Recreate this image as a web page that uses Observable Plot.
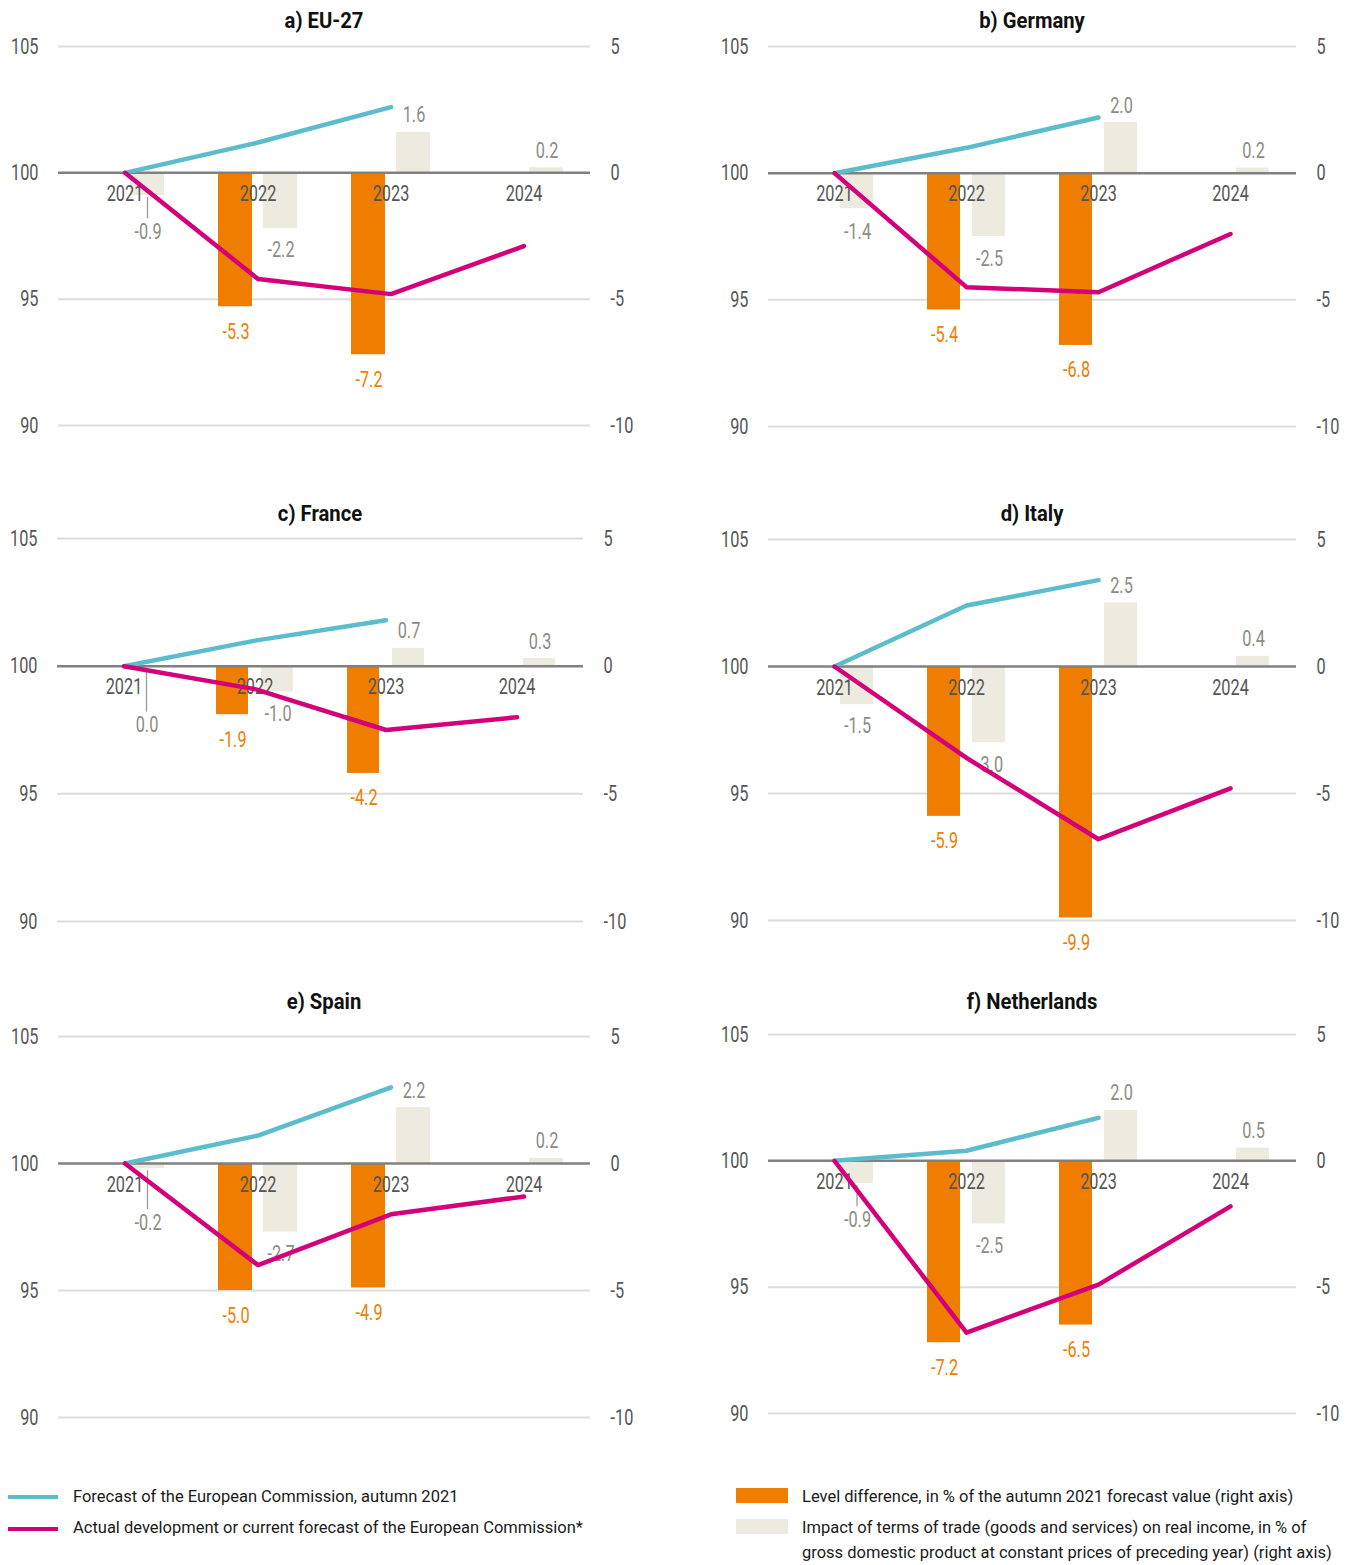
<!DOCTYPE html>
<html><head><meta charset="utf-8">
<script src="https://cdn.jsdelivr.net/npm/d3@7"></script>
<script src="https://cdn.jsdelivr.net/npm/@observablehq/plot@0.6"></script>
<style>
body{margin:0;background:#fff;}
#page{position:relative;width:1351px;height:1565px;overflow:hidden;font-family:Roboto,"Noto Sans",sans-serif;}
.panel{position:absolute;}
.panel svg{overflow:visible;}
.title{position:absolute;font-weight:bold;font-size:22px;color:#111;transform:translate(-50%,-50%) scaleX(0.92);white-space:nowrap;}
.leg{position:absolute;font-size:16.5px;color:#1a1a1a;white-space:nowrap;line-height:25px;}
.sw{position:absolute;}
</style></head>
<body><div id="page"></div>
<script>
// ---------- data ----------
const years = ["2021", "2022", "2023", "2024"];
const titles = ["a) EU-27", "b) Germany", "c) France", "d) Italy", "e) Spain", "f) Netherlands"];
// Forecast of the European Commission, autumn 2021 (index, 2021 = 100)
const forecastIndex = [
  [100, 101.2, 102.6],
  [100, 101.0, 102.2],
  [100, 101.0, 101.8],
  [100, 102.4, 103.4],
  [100, 101.1, 103.0],
  [100, 100.4, 101.7]
];
// Actual development or current forecast (index, 2021 = 100)
const actualIndex = [
  [100, 95.8, 95.2, 97.1],
  [100, 95.5, 95.3, 97.6],
  [100, 99.1, 97.5, 98.0],
  [100, 96.4, 93.2, 95.2],
  [100, 96.0, 98.0, 98.7],
  [100, 93.2, 95.1, 98.2]
];
// Level difference, % of autumn 2021 forecast (right axis)
const levelDiff = [
  [null, -5.3, -7.2, null],
  [null, -5.4, -6.8, null],
  [null, -1.9, -4.2, null],
  [null, -5.9, -9.9, null],
  [null, -5.0, -4.9, null],
  [null, -7.2, -6.5, null]
];
// Impact of terms of trade on real income (right axis)
const termsOfTrade = [
  [-0.9, -2.2, 1.6, 0.2],
  [-1.4, -2.5, 2.0, 0.2],
  [0.0, -1.0, 0.7, 0.3],
  [-1.5, -3.0, 2.5, 0.4],
  [-0.2, -2.7, 2.2, 0.2],
  [-0.9, -2.5, 2.0, 0.5]
];
const indexBase = 100;
const rightTicks = [-10, -5, 0, 5];
const gridTicks = [-10, -5, 5];
const legendLines = ["Forecast of the European Commission, autumn 2021", "Actual development or current forecast of the European Commission*"];
const legendBars = ["Level difference, in % of the autumn 2021 forecast value (right axis)", "Impact of terms of trade (goods and services) on real income, in % of<br>gross domestic product at constant prices of preceding year) (right axis)"];

// ---------- style / layout ----------
const FONT = 'Roboto,"Noto Sans",sans-serif';
const SQUEEZE = 0.74; // horizontal condensing of chart labels
const C = {cyan: "#5bbccc", magenta: "#d4007a", orange: "#ef7d00", beige: "#edeae0", grid: "#dcdcdc", zero: "#808080", tick: "#555", totLabel: "#8c8c84"};
const layout = [
  {left: 0, width: 680, x0: 58, x1: 590, t: 46, b: 425, ty: 20},
  {left: 700, width: 651, x0: 768, x1: 1296, t: 46, b: 426, ty: 20},
  {left: 0, width: 680, x0: 57, x1: 583, t: 538, b: 921, ty: 513},
  {left: 700, width: 651, x0: 768, x1: 1296, t: 539, b: 920, ty: 513},
  {left: 0, width: 680, x0: 58, x1: 590, t: 1036, b: 1417, ty: 1001},
  {left: 700, width: 651, x0: 768, x1: 1296, t: 1034, b: 1413, ty: 1001}
];
const page = document.getElementById("page");

function leader(data) {
  return (index, {x, y}) => {
    const g = d3.create("svg:g");
    for (const d of data) {
      const cx = x(d.year) + x.bandwidth() / 2 + 23;
      const y1 = y(Math.min(d.v, 0)) + 2, y2 = y(0) + 46;
      if (y2 - y1 < 16) continue;
      g.append("line").attr("x1", cx).attr("x2", cx)
        .attr("y1", y1).attr("y2", y2)
        .attr("stroke", "#9a9a9a").attr("stroke-width", 1.3);
    }
    return g.node();
  };
}

function squeeze(svg, k) {
  svg.querySelectorAll("text").forEach(t => {
    const tr = t.getAttribute("transform");
    if (t.hasAttribute("x")) t.setAttribute("x", (+t.getAttribute("x")) / k);
    t.setAttribute("transform", (tr ? tr + " " : "") + `scale(${k},1)`);
  });
}

titles.forEach((title, p) => {
  const L = layout[p];
  const mt = 12, mb = 40;
  const height = mt + (L.b - L.t) + mb;
  const lvl = years.map((year, i) => ({year, v: levelDiff[p][i]})).filter(d => d.v != null);
  const tot = years.map((year, i) => ({year, v: termsOfTrade[p][i], first: i === 0}));
  const fc = forecastIndex[p].map((v, i) => ({year: years[i], v: v - indexBase}));
  const ac = actualIndex[p].map((v, i) => ({year: years[i], v: v - indexBase}));
  const totFirst = tot.filter(d => d.first);
  const totPos = tot.filter(d => !d.first && d.v >= 0);
  const totNeg = tot.filter(d => !d.first && d.v < 0);
  const fmt = d => d.v.toFixed(1);

  const svg = Plot.plot({
    width: L.width, height,
    marginTop: mt, marginBottom: mb,
    marginLeft: L.x0 - L.left, marginRight: L.left + L.width - L.x1,
    x: {type: "band", domain: years, padding: 0, axis: null},
    y: {domain: [-10, 5], axis: null},
    style: {fontFamily: FONT, fontSize: "22px", color: C.tick, background: "transparent", overflow: "visible"},
    marks: [
      Plot.ruleY(gridTicks, {stroke: C.grid, strokeWidth: 2}),
      Plot.axisY({anchor: "left", label: null, ticks: rightTicks, tickSize: 0, tickPadding: 20, tickFormat: d => String(d + indexBase)}),
      Plot.axisY({anchor: "right", label: null, ticks: rightTicks, tickSize: 0, tickPadding: 20, tickFormat: d => String(d)}),
      Plot.barY(lvl, {x: "year", y: "v", fill: C.orange, insetLeft: 27, insetRight: 72}),
      Plot.barY(tot, {x: "year", y: "v", fill: C.beige, insetLeft: 72, insetRight: 27}),
      Plot.ruleY([0], {stroke: C.zero, strokeWidth: 2.5}),
      Plot.text(years, {x: d => d, y: 0, dy: 21, text: d => d, fill: C.tick}),
      leader(totFirst),
      Plot.text(totFirst, {x: "year", y: 0, dx: 23, dy: 59, text: fmt, fill: C.totLabel}),
      Plot.text(totPos, {x: "year", y: "v", dx: 23, dy: -17, text: fmt, fill: C.totLabel}),
      Plot.text(totNeg, {x: "year", y: "v", dx: 23, dy: 22, text: fmt, fill: C.totLabel}),
      Plot.text(lvl, {x: "year", y: "v", dx: -22, dy: 25, text: fmt, fill: C.orange}),
      Plot.line(fc, {x: "year", y: "v", stroke: C.cyan, strokeWidth: 4.5, strokeLinecap: "round", strokeLinejoin: "round"}),
      Plot.line(ac, {x: "year", y: "v", stroke: C.magenta, strokeWidth: 4.5, strokeLinecap: "round", strokeLinejoin: "round"})
    ]
  });
  squeeze(svg, SQUEEZE);
  const div = document.createElement("div");
  div.className = "panel";
  div.style.left = L.left + "px";
  div.style.top = (L.t - mt) + "px";
  div.appendChild(svg);
  page.appendChild(div);

  const t = document.createElement("div");
  t.className = "title";
  t.textContent = title;
  t.style.left = ((L.x0 + L.x1) / 2) + "px";
  t.style.top = L.ty + "px";
  page.appendChild(t);
});

// ---------- legend ----------
function addSwatch(x, y, w, h, color) {
  const s = document.createElement("div");
  s.className = "sw";
  Object.assign(s.style, {left: x + "px", top: y + "px", width: w + "px", height: h + "px", background: color});
  page.appendChild(s);
}
function addText(x, y, html) {
  const t = document.createElement("div");
  t.className = "leg";
  t.style.left = x + "px";
  t.style.top = y + "px";
  t.innerHTML = html;
  page.appendChild(t);
}
addSwatch(8, 1495, 50, 4, C.cyan);
addText(73, 1484, legendLines[0]);
addSwatch(8, 1527, 50, 4, C.magenta);
addText(73, 1515, legendLines[1]);
addSwatch(736, 1488, 52, 15, C.orange);
addText(802, 1484, legendBars[0]);
addSwatch(736, 1519, 52, 15, C.beige);
addText(802, 1515, legendBars[1]);
</script>
</body></html>
